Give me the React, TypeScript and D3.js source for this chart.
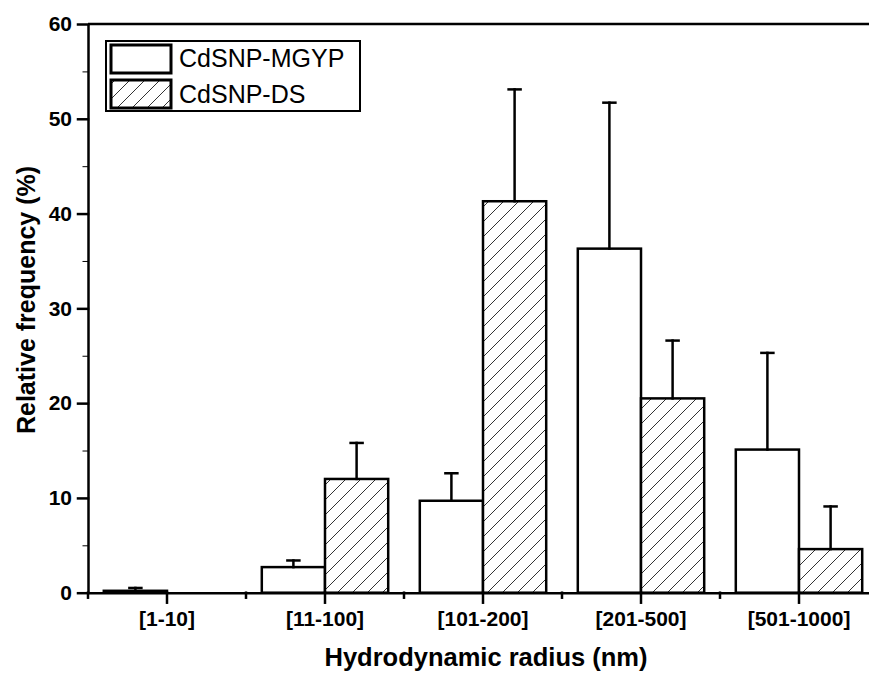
import { useEffect, useRef } from 'react';
import * as d3 from 'd3';

const categories = ['[1-10]', '[11-100]', '[101-200]', '[201-500]', '[501-1000]'];
const seriesNames = ['CdSNP-MGYP', 'CdSNP-DS'];
const mgypValues = [0.2, 2.7, 9.7, 36.3, 15.1];
const mgypErrors = [0.3, 0.7, 2.9, 15.4, 10.2];
const dsValues = [0, 12.0, 41.3, 20.5, 4.6];
const dsErrors = [0, 3.8, 11.8, 6.1, 4.5];
const yTicks = [0, 10, 20, 30, 40, 50, 60];
const yMinorTicks = [5, 15, 25, 35, 45, 55];

const W = 869;
const H = 675;
const FONT = '"Liberation Sans", Arial, sans-serif';

export default function App() {
  const svgRef = useRef<SVGSVGElement>(null);

  useEffect(() => {
    if (!svgRef.current) return;
    const svg = d3.select(svgRef.current);
    svg.selectAll('*').remove();

    const margin = { left: 88, top: 24, right: 878, bottom: 592.7 };

    const x = d3.scaleBand<string>().domain(categories).range([margin.left, margin.right]).padding(0);
    const xSeries = d3.scaleBand<string>().domain(seriesNames)
      .range([x.bandwidth() * 0.1, x.bandwidth() * 0.9]).padding(0);
    const y = d3.scaleLinear().domain([0, 60]).range([margin.bottom, margin.top]);

    // hatch pattern
    const defs = svg.append('defs');
    const pat = defs.append('pattern')
      .attr('id', 'hatch')
      .attr('patternUnits', 'userSpaceOnUse')
      .attr('width', 15)
      .attr('height', 15);
    pat.append('rect').attr('width', 15).attr('height', 15).attr('fill', 'white');
    pat.append('path')
      .attr('d', 'M-2,2 L2,-2 M0,15 L15,0 M13,17 L17,13')
      .attr('stroke', '#333')
      .attr('stroke-width', 1);

    const series = [
      { name: seriesNames[0], values: mgypValues, errors: mgypErrors, fill: 'white' },
      { name: seriesNames[1], values: dsValues, errors: dsErrors, fill: 'url(#hatch)' },
    ];

    // top frame line
    svg.append('line')
      .attr('x1', margin.left).attr('x2', margin.right)
      .attr('y1', margin.top).attr('y2', margin.top)
      .attr('stroke', 'black').attr('stroke-width', 2.5);

    series.forEach(s => {
      const g = svg.append('g');
      g.selectAll('rect')
        .data(categories)
        .join('rect')
        .attr('x', c => (x(c) || 0) + (xSeries(s.name) || 0))
        .attr('y', (c, i) => y(s.values[i]))
        .attr('width', xSeries.bandwidth())
        .attr('height', (c, i) => y(0) - y(s.values[i]))
        .attr('fill', s.fill)
        .attr('stroke', 'black')
        .attr('stroke-width', 2.5);

      // error bars (plus only)
      categories.forEach((c, i) => {
        if (!s.errors[i]) return;
        const cx = (x(c) || 0) + (xSeries(s.name) || 0) + xSeries.bandwidth() / 2;
        const top = y(s.values[i] + s.errors[i]);
        g.append('line')
          .attr('x1', cx).attr('x2', cx)
          .attr('y1', y(s.values[i])).attr('y2', top)
          .attr('stroke', 'black').attr('stroke-width', 2.5);
        g.append('line')
          .attr('x1', cx - 6).attr('x2', cx + 6)
          .attr('y1', top).attr('y2', top)
          .attr('stroke', 'black').attr('stroke-width', 2.5);
      });
    });

    // y axis
    const yAxis = svg.append('g')
      .attr('transform', `translate(${margin.left},0)`)
      .call(d3.axisLeft(y).tickValues(yTicks).tickSize(10).tickSizeOuter(0).tickPadding(6));
    svg.append('g')
      .attr('transform', `translate(${margin.left},0)`)
      .call(d3.axisLeft(y).tickValues(yMinorTicks).tickSize(5).tickSizeOuter(0).tickFormat(() => ''))
      .select('.domain').remove();

    // x axis
    const xAxis = svg.append('g')
      .attr('transform', `translate(0,${margin.bottom})`)
      .call(d3.axisBottom(x).tickSize(10).tickSizeOuter(0).tickPadding(8));
    const minorX = categories.map(c => x(c) || 0).concat([x.range()[1]]);
    svg.append('g')
      .selectAll('line')
      .data(minorX)
      .join('line')
      .attr('x1', d => d).attr('x2', d => d)
      .attr('y1', margin.bottom).attr('y2', margin.bottom + 5)
      .attr('stroke', 'black').attr('stroke-width', 2.5);

    [yAxis, xAxis].forEach(a => {
      a.selectAll('path, line').attr('stroke', 'black').attr('stroke-width', 2.5);
      a.selectAll('text')
        .attr('fill', 'black')
        .style('font-family', FONT)
        .style('font-size', '21px')
        .style('font-weight', 'bold');
    });
    svg.selectAll('g line').attr('stroke-linecap', 'square');

    // axis titles
    svg.append('text')
      .attr('x', 486)
      .attr('y', 666)
      .attr('text-anchor', 'middle')
      .style('font-family', FONT)
      .style('font-size', '25.5px')
      .style('font-weight', 'bold')
      .text('Hydrodynamic radius (nm)');

    svg.append('text')
      .attr('transform', `translate(35,300) rotate(-90)`)
      .attr('text-anchor', 'middle')
      .style('font-family', FONT)
      .style('font-size', '25px')
      .style('font-weight', 'bold')
      .text('Relative frequency (%)');

    // legend
    const legend = svg.append('g');
    legend.append('rect')
      .attr('x', 106).attr('y', 41).attr('width', 254).attr('height', 70)
      .attr('fill', 'white').attr('stroke', 'black').attr('stroke-width', 2);
    series.forEach((s, i) => {
      legend.append('rect')
        .attr('x', 111).attr('y', 45 + i * 35).attr('width', 60).attr('height', 28)
        .attr('fill', s.fill).attr('stroke', 'black').attr('stroke-width', 3);
      legend.append('text')
        .attr('x', 179).attr('y', 67 + i * 36)
        .style('font-family', FONT)
        .style('font-size', '25px')
        .text(s.name);
    });
  }, []);

  return (
    <svg
      ref={svgRef}
      width={W}
      height={H}
      style={{ position: 'absolute', left: 0, top: 0, background: 'white' }}
    />
  );
}
